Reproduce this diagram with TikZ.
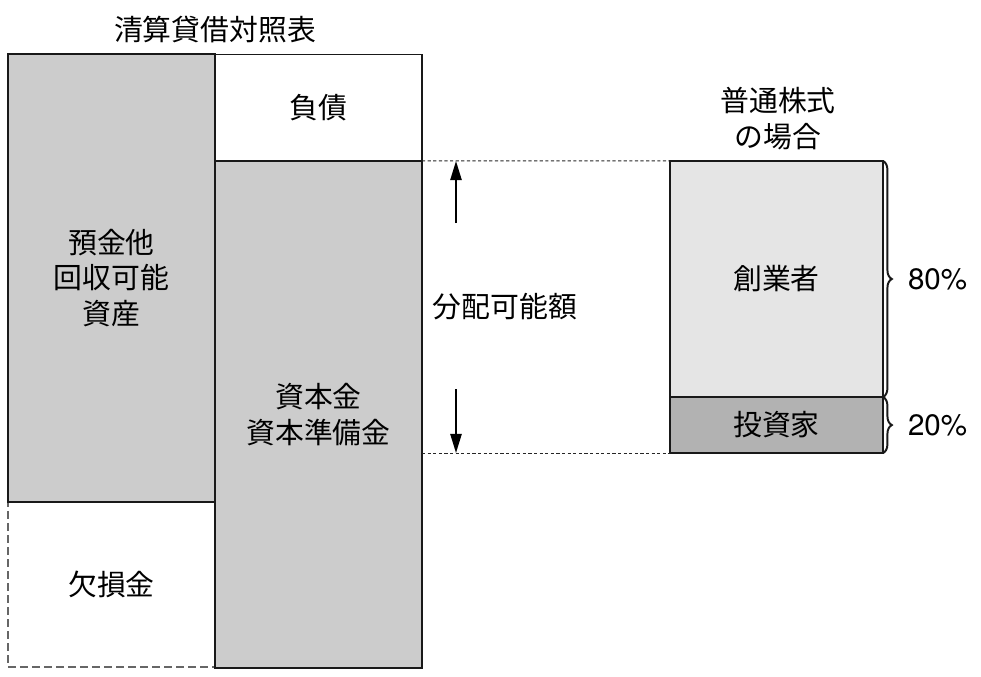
\documentclass[tikz,border=0pt]{standalone}
\usepackage{fontspec}
\newfontfamily\cjk{Noto Sans CJK JP}
\newfontfamily\heros{TeX Gyre Heros}
\usetikzlibrary{positioning,arrows.meta,decorations.pathreplacing}

\begin{document}
\begin{tikzpicture}[x=0.025cm,y=-0.025cm,line width=1.4pt,
		font=\cjk\fontsize{20.5pt}{25.5pt}\selectfont,
		acct/.style={draw=black!90,rectangle,inner sep=0pt,outer sep=0pt,minimum width=5.175cm,align=center},
		share/.style={draw=black!90,rectangle,inner sep=0pt,outer sep=0pt,minimum width=5.325cm,align=center},
		guide/.style={draw=black!85,line width=0.7pt,dash pattern=on 0.08cm off 0.06cm},
		amt/.style={-{Triangle[length=0.48cm,width=0.28cm]},line width=1.4pt},
		ratio/.style={decorate,decoration={brace,amplitude=0.22cm},line width=1.4pt,draw=black!90},
		pct/.style={inner sep=0pt,font=\heros\fontsize{21pt}{25pt}\selectfont}]
		\useasboundingbox (0,0) rectangle (981,677);
		
		% balance sheet
		\node[acct,draw=black!60,dash pattern=on 0.2cm off 0.1cm,minimum height=4.125cm] (loss) at (111.5,584.5) {欠損金};
		\node[acct,fill=black!20,minimum height=11.2cm] (asset) at (111.5,278) {預金他\\回収可能\\資産};
		\node[acct,minimum height=2.65cm] (debt) at (318.5,107.5) {負債};
		\node[acct,fill=black!20,minimum height=12.675cm] (capital) at (318.5,414.5) {資本金\\資本準備金};
		\node (title) at (215,30) {清算貸借対照表};
		
		% shares
		\node[share,fill=black!10,minimum height=5.9cm] (founder) at (776.5,279) {創業者};
		\node[share,fill=black!30,minimum height=1.4cm,below=0pt of founder] (investor) {投資家};
		\node[align=center] (kind) at (778,119) {普通株式\\の場合};
		
		\draw[guide] (capital.north east) -- (founder.north west);
		\draw[guide] (capital.east |- investor.south west) -- (investor.south west);
		
		% distributable amount
		\node (dist) at (505,307) {分配可能額};
		\coordinate (upfoot) at (456,223);
		\coordinate (downfoot) at (456,389);
		\draw[amt] (upfoot) -- (upfoot |- founder.north);
		\draw[amt] (downfoot) -- (downfoot |- investor.south);
		
		\draw[ratio] (founder.north east) -- (founder.south east);
		\draw[ratio] (investor.north east) -- (investor.south east);
		\node[pct,anchor=west,right=0.6cm of founder.east] (p80) {80\%};
		\node[pct,anchor=west,right=0.6cm of investor.east] (p20) {20\%};
		
	\end{tikzpicture}
\end{document}
